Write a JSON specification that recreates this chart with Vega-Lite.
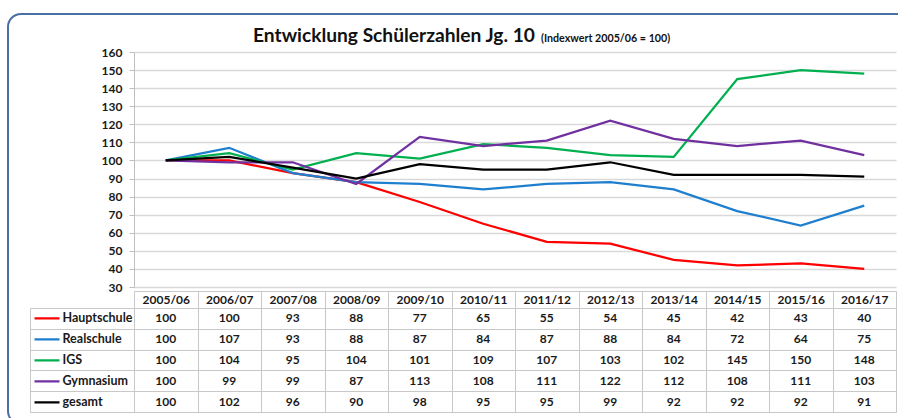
{
  "$schema": "https://vega.github.io/schema/vega-lite/v6.json",
  "background": "white",
  "padding": {"left": 7, "top": 13, "right": 0, "bottom": 0},
  "bounds": "flush",
  "spacing": 21,
  "config": {"font": "Lato", "view": {"stroke": null}, "legend": {"strokeWidth": 2}},
  "title": {"text": "Entwicklung Schülerzahlen Jg. 10", "fontSize": 19.2, "fontWeight": "bold", "color": "#111111", "anchor": "start", "dx": 246, "offset": -33},
  "datasets": {
    "werte": [
      {"jahr": "2005/06", "schule": "Hauptschule", "wert": 100},
      {"jahr": "2006/07", "schule": "Hauptschule", "wert": 100},
      {"jahr": "2007/08", "schule": "Hauptschule", "wert": 93},
      {"jahr": "2008/09", "schule": "Hauptschule", "wert": 88},
      {"jahr": "2009/10", "schule": "Hauptschule", "wert": 77},
      {"jahr": "2010/11", "schule": "Hauptschule", "wert": 65},
      {"jahr": "2011/12", "schule": "Hauptschule", "wert": 55},
      {"jahr": "2012/13", "schule": "Hauptschule", "wert": 54},
      {"jahr": "2013/14", "schule": "Hauptschule", "wert": 45},
      {"jahr": "2014/15", "schule": "Hauptschule", "wert": 42},
      {"jahr": "2015/16", "schule": "Hauptschule", "wert": 43},
      {"jahr": "2016/17", "schule": "Hauptschule", "wert": 40},
      {"jahr": "2005/06", "schule": "Realschule", "wert": 100},
      {"jahr": "2006/07", "schule": "Realschule", "wert": 107},
      {"jahr": "2007/08", "schule": "Realschule", "wert": 93},
      {"jahr": "2008/09", "schule": "Realschule", "wert": 88},
      {"jahr": "2009/10", "schule": "Realschule", "wert": 87},
      {"jahr": "2010/11", "schule": "Realschule", "wert": 84},
      {"jahr": "2011/12", "schule": "Realschule", "wert": 87},
      {"jahr": "2012/13", "schule": "Realschule", "wert": 88},
      {"jahr": "2013/14", "schule": "Realschule", "wert": 84},
      {"jahr": "2014/15", "schule": "Realschule", "wert": 72},
      {"jahr": "2015/16", "schule": "Realschule", "wert": 64},
      {"jahr": "2016/17", "schule": "Realschule", "wert": 75},
      {"jahr": "2005/06", "schule": "IGS", "wert": 100},
      {"jahr": "2006/07", "schule": "IGS", "wert": 104},
      {"jahr": "2007/08", "schule": "IGS", "wert": 95},
      {"jahr": "2008/09", "schule": "IGS", "wert": 104},
      {"jahr": "2009/10", "schule": "IGS", "wert": 101},
      {"jahr": "2010/11", "schule": "IGS", "wert": 109},
      {"jahr": "2011/12", "schule": "IGS", "wert": 107},
      {"jahr": "2012/13", "schule": "IGS", "wert": 103},
      {"jahr": "2013/14", "schule": "IGS", "wert": 102},
      {"jahr": "2014/15", "schule": "IGS", "wert": 145},
      {"jahr": "2015/16", "schule": "IGS", "wert": 150},
      {"jahr": "2016/17", "schule": "IGS", "wert": 148},
      {"jahr": "2005/06", "schule": "Gymnasium", "wert": 100},
      {"jahr": "2006/07", "schule": "Gymnasium", "wert": 99},
      {"jahr": "2007/08", "schule": "Gymnasium", "wert": 99},
      {"jahr": "2008/09", "schule": "Gymnasium", "wert": 87},
      {"jahr": "2009/10", "schule": "Gymnasium", "wert": 113},
      {"jahr": "2010/11", "schule": "Gymnasium", "wert": 108},
      {"jahr": "2011/12", "schule": "Gymnasium", "wert": 111},
      {"jahr": "2012/13", "schule": "Gymnasium", "wert": 122},
      {"jahr": "2013/14", "schule": "Gymnasium", "wert": 112},
      {"jahr": "2014/15", "schule": "Gymnasium", "wert": 108},
      {"jahr": "2015/16", "schule": "Gymnasium", "wert": 111},
      {"jahr": "2016/17", "schule": "Gymnasium", "wert": 103},
      {"jahr": "2005/06", "schule": "gesamt", "wert": 100},
      {"jahr": "2006/07", "schule": "gesamt", "wert": 102},
      {"jahr": "2007/08", "schule": "gesamt", "wert": 96},
      {"jahr": "2008/09", "schule": "gesamt", "wert": 90},
      {"jahr": "2009/10", "schule": "gesamt", "wert": 98},
      {"jahr": "2010/11", "schule": "gesamt", "wert": 95},
      {"jahr": "2011/12", "schule": "gesamt", "wert": 95},
      {"jahr": "2012/13", "schule": "gesamt", "wert": 99},
      {"jahr": "2013/14", "schule": "gesamt", "wert": 92},
      {"jahr": "2014/15", "schule": "gesamt", "wert": 92},
      {"jahr": "2015/16", "schule": "gesamt", "wert": 92},
      {"jahr": "2016/17", "schule": "gesamt", "wert": 91}
    ]
  },
  "resolve": {"scale": {"stroke": "independent", "color": "independent"}, "legend": {"stroke": "independent", "color": "independent"}},
  "vconcat": [
    {
      "width": 762,
      "height": 235,
      "title": {"text": "(Indexwert 2005/06 = 100)", "fontSize": 10.7, "fontWeight": "bold", "color": "#111111", "anchor": "start", "frame": "group", "dx": 407, "offset": -32},
      "data": {"name": "werte"},
      "mark": {"type": "line", "strokeWidth": 2.25},
      "encoding": {
        "x": {"field": "jahr", "type": "ordinal", "scale": {"type": "point", "padding": 0.5}, "axis": null},
        "y": {
          "field": "wert", "type": "quantitative",
          "scale": {"domain": [30, 160], "nice": false, "zero": false},
          "axis": {"values": [30, 40, 50, 60, 70, 80, 90, 100, 110, 120, 130, 140, 150, 160], "title": null, "grid": true, "gridColor": "#d9d9d9", "gridWidth": 1.5, "domainColor": "#bfbfbf", "tickColor": "#bfbfbf", "tickSize": 5, "labelPadding": 7, "labelFontSize": 12, "labelFontWeight": "bold", "labelColor": "#1a1a1a"}
        },
        "color": {
          "field": "schule", "type": "nominal",
          "scale": {"domain": ["Hauptschule", "Realschule", "IGS", "Gymnasium", "gesamt"], "range": ["#ff0000", "#1f7fcf", "#00b050", "#7030a0", "#000000"]},
          "legend": {"orient": "none", "legendX": -126, "legendY": -38, "direction": "horizontal", "columns": 5, "title": null, "labelExpr": "''", "symbolOpacity": 0, "symbolStrokeWidth": 0, "symbolSize": 100, "columnPadding": 220, "padding": 200, "strokeColor": "#4a6fa5", "cornerRadius": 13}
        }
      }
    },
    {
      "width": 762,
      "height": 104,
      "view": {"stroke": "#c8c8c8"},
      "data": {"name": "werte"},
      "mark": {"type": "text", "fontSize": 12, "fontWeight": "bold", "color": "#1a1a1a", "strokeWidth": 0},
      "encoding": {
        "x": {
          "field": "jahr", "type": "ordinal",
          "scale": {"type": "band", "paddingInner": 0, "paddingOuter": 0},
          "axis": {"orient": "top", "title": null, "offset": 17, "domain": true, "domainColor": "#c8c8c8", "ticks": true, "tickSize": -17, "tickBand": "extent", "tickColor": "#c8c8c8", "grid": true, "gridColor": "#c8c8c8", "labelPadding": 8.5, "labelBaseline": "middle", "labelFontSize": 12, "labelFontWeight": "bold", "labelColor": "#1a1a1a", "labelAngle": 0}
        },
        "y": {
          "field": "schule", "type": "nominal",
          "scale": {"type": "band", "domain": ["Hauptschule", "Realschule", "IGS", "Gymnasium", "gesamt"], "paddingInner": 0, "paddingOuter": 0},
          "axis": {"title": null, "offset": 104, "labels": false, "domain": true, "domainColor": "#c8c8c8", "ticks": true, "tickSize": -104, "tickBand": "extent", "tickColor": "#c8c8c8", "grid": true, "gridColor": "#c8c8c8"}
        },
        "text": {"field": "wert", "type": "quantitative"},
        "stroke": {
          "field": "schule", "type": "nominal",
          "scale": {"domain": ["Hauptschule", "Realschule", "IGS", "Gymnasium", "gesamt"], "range": ["#ff0000", "#1f7fcf", "#00b050", "#7030a0", "#000000"]},
          "legend": {"orient": "none", "legendX": -101, "legendY": 0, "title": null, "symbolType": "stroke", "symbolSize": 625, "symbolStrokeWidth": 2.25, "clipHeight": 20.8, "rowPadding": 0, "padding": 0, "labelOffset": 1.5, "labelFontSize": 12.5, "labelFontWeight": "bold", "labelColor": "#1a1a1a"}
        }
      }
    }
  ]
}
